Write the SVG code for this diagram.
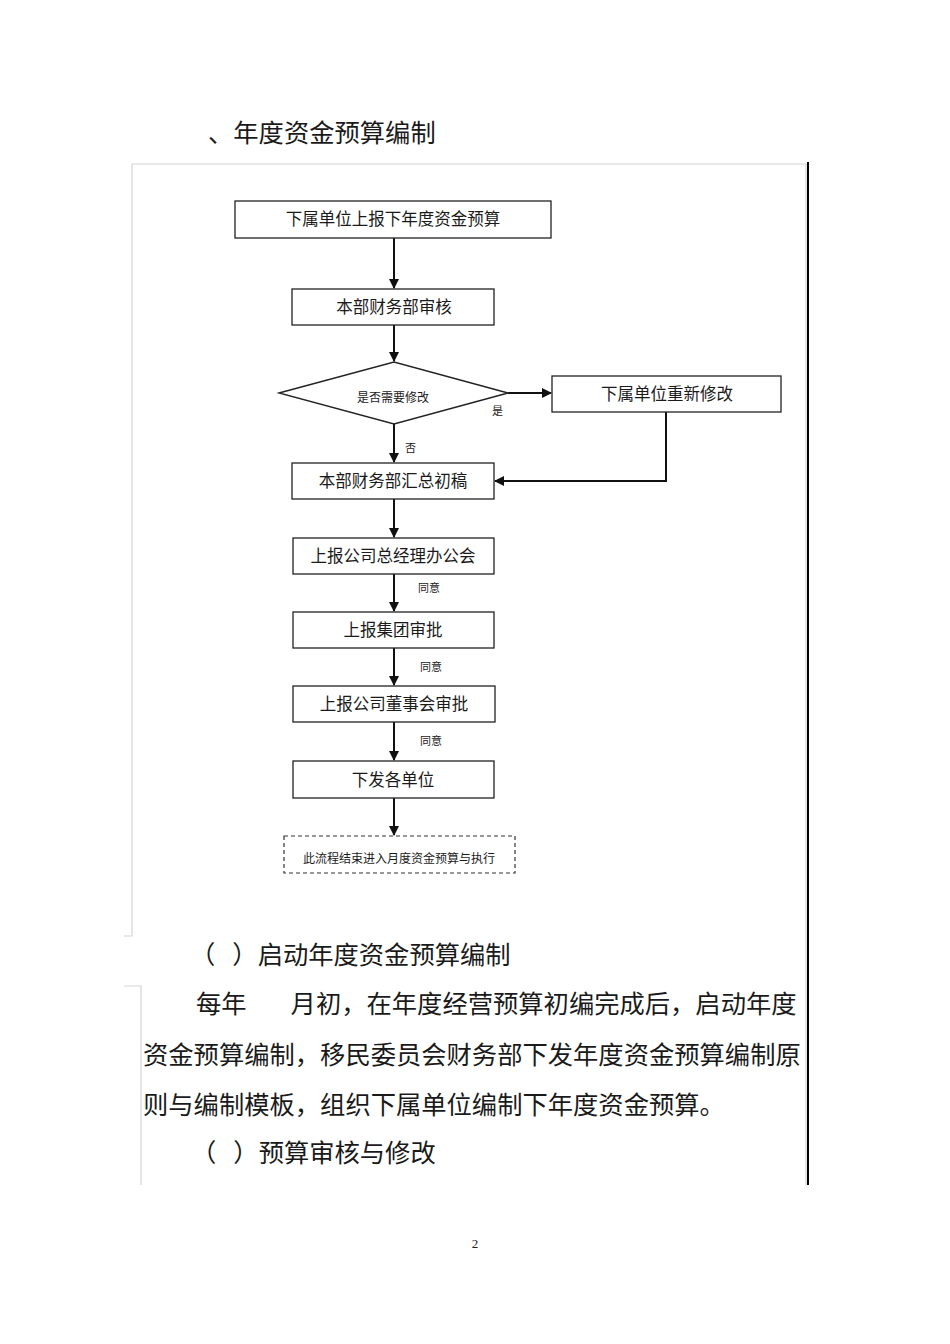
<svg xmlns="http://www.w3.org/2000/svg" width="950" height="1344" viewBox="0 0 950 1344">
<style>
.t{font-family:"Noto Sans CJK SC","Noto Sans CJK JP",sans-serif;fill:#1a1a1a}
.big{font-size:25.3px}
.box{fill:#fff;stroke:#222;stroke-width:1.3}
.bt{font-size:16.5px;text-anchor:middle}
.sm{font-size:12px;text-anchor:middle}
.lab{font-size:11px}
.c{stroke:#111;stroke-width:2;fill:none}
.frame{stroke:#d4d4d4;stroke-width:1.2;fill:none}
</style>
<defs>
<marker id="ah" markerWidth="10" markerHeight="10" refX="9" refY="5" orient="auto" markerUnits="userSpaceOnUse">
<path d="M0,0 L10,5 L0,10 Z" fill="#111"/>
</marker>
</defs>
<rect width="950" height="1344" fill="#fff"/>
<g id="frame">
<path class="frame" d="M132,164 H806 M132,164 V936 H124 M806,164 V1185 M124,986 H141 V1185"/>
<path d="M808,162 V1185" stroke="#000" stroke-width="2"/>
</g>
<text class="t big" x="208" y="142">、年度资金预算编制</text>
<g id="connectors">
<path class="c" d="M394,238 V288" marker-end="url(#ah)"/>
<path class="c" d="M394,325 V361" marker-end="url(#ah)"/>
<path class="c" d="M508,393 H551" marker-end="url(#ah)"/>
<path class="c" d="M666,412 V481 H495" marker-end="url(#ah)"/>
<path class="c" d="M394,424 V462" marker-end="url(#ah)"/>
<path class="c" d="M394,499 V537" marker-end="url(#ah)"/>
<path class="c" d="M394,574 V611" marker-end="url(#ah)"/>
<path class="c" d="M394,648 V685" marker-end="url(#ah)"/>
<path class="c" d="M394,722 V760" marker-end="url(#ah)"/>
<path class="c" d="M394,798 V835" marker-end="url(#ah)"/>
<text class="t lab" x="492" y="415">是</text>
<text class="t lab" x="405" y="452">否</text>
<text class="t lab" x="418" y="592">同意</text>
<text class="t lab" x="420" y="671">同意</text>
<text class="t lab" x="420" y="745">同意</text>
</g>
<g id="n1"><rect class="box" x="235" y="201" width="316" height="37"/><text class="t bt" x="393" y="225">下属单位上报下年度资金预算</text></g>
<g id="n2"><rect class="box" x="292" y="289" width="202" height="36"/><text class="t bt" x="394" y="313">本部财务部审核</text></g>
<g id="n3"><polygon class="box" points="279,393 394,362 508,393 394,424"/><text class="t sm" x="393" y="402">是否需要修改</text></g>
<g id="n4"><rect class="box" x="552" y="376" width="229" height="36"/><text class="t bt" x="667" y="400">下属单位重新修改</text></g>
<g id="n5"><rect class="box" x="292" y="463" width="202" height="36"/><text class="t bt" x="393" y="487">本部财务部汇总初稿</text></g>
<g id="n6"><rect class="box" x="293" y="538" width="201" height="36"/><text class="t bt" x="393" y="562">上报公司总经理办公会</text></g>
<g id="n7"><rect class="box" x="293" y="612" width="201" height="36"/><text class="t bt" x="393" y="636">上报集团审批</text></g>
<g id="n8"><rect class="box" x="293" y="686" width="202" height="36"/><text class="t bt" x="394" y="710">上报公司董事会审批</text></g>
<g id="n9"><rect class="box" x="293" y="761" width="201" height="37"/><text class="t bt" x="393" y="786">下发各单位</text></g>
<g id="n10"><rect x="284" y="836" width="231" height="37" fill="#fff" stroke="#333" stroke-width="1.2" stroke-dasharray="4,3"/><text class="t sm" x="399" y="863">此流程结束进入月度资金预算与执行</text></g>
<text class="t big" x="190" y="964">（<tspan dx="17">）</tspan>启动年度资金预算编制</text>
<text class="t big" x="196" y="1013">每年<tspan dx="44">月初，在年度经营预算初编完成后，启动年度</tspan></text>
<text class="t big" x="143" y="1064">资金预算编制，移民委员会财务部下发年度资金预算编制原</text>
<text class="t big" x="143" y="1114">则与编制模板，组织下属单位编制下年度资金预算。</text>
<text class="t big" x="191" y="1162">（<tspan dx="17">）</tspan>预算审核与修改</text>
<text x="475" y="1248" font-family="Liberation Serif,serif" font-size="13" text-anchor="middle" fill="#222">2</text>
</svg>
